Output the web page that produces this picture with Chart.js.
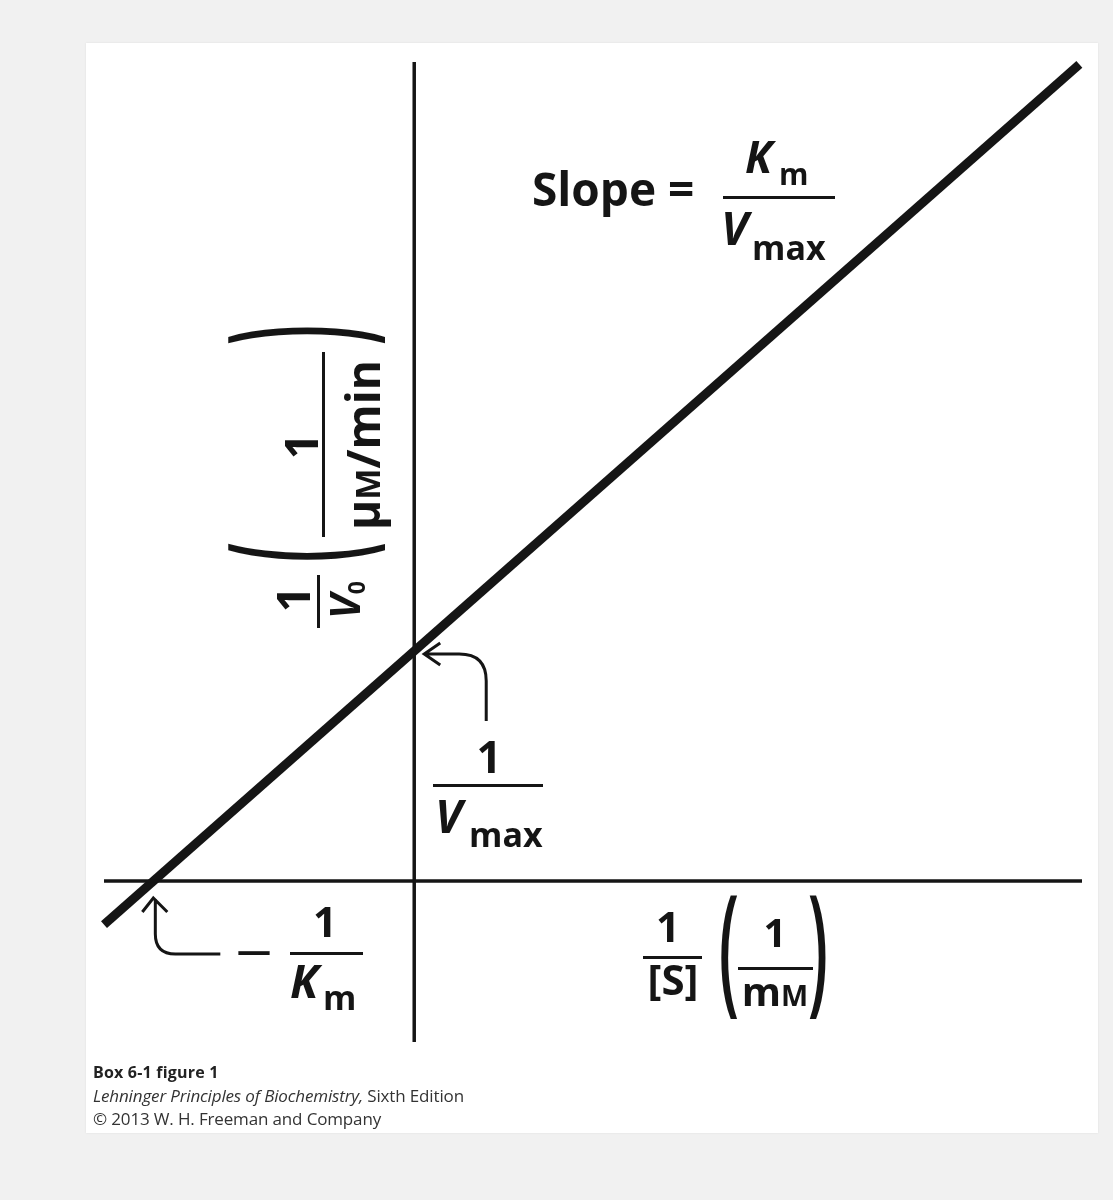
<!DOCTYPE html>
<html>
<head>
<meta charset="utf-8">
<script src="https://cdn.jsdelivr.net/npm/chart.js@4"></script>
<style>
  html, body { margin: 0; padding: 0; }
  body { width: 1113px; height: 1200px; overflow: hidden; background: #f1f1f1; position: relative; }
  #panel { position: absolute; left: 86px; top: 43px; width: 1012px; height: 1090px; background: #fff; box-shadow: 0 0 2px rgba(0,0,0,0.08); }
  #chart { position: absolute; left: 0; top: 0; }
  #labels { position: absolute; left: 0; top: 0; width: 1113px; height: 1200px; }
  #ylabel { position: absolute; left: 222px; top: 628px; width: 320px; height: 180px; transform-origin: 0 0; transform: rotate(-90deg); }
  .t { position: absolute; line-height: 1; white-space: nowrap; font-family: "Open Sans", "Noto Sans", sans-serif; font-weight: 700; color: #151515; }
  .bar { position: absolute; background: #151515; }
</style>
</head>
<body>
<div id="panel"></div>
<canvas id="chart" width="1113" height="1200"></canvas>
<div id="labels"><div id="ylabel"></div></div>

<script>
  // ── Data (Lineweaver–Burk plot, arbitrary units) ──────
  const axisX = [-1.18, 2.54];   // extent of the 1/[S] axis
  const axisY = [-0.70, 3.56];   // extent of the 1/V0 axis
  const plotX = [-1.18, 2.53];   // ends of the fitted line
  const plotY = [-0.19, 3.55];
  const interceptX = -1;         // -1/Km
  const interceptY = 1;          // 1/Vmax

  const INK = "#151515";
  const ASC = 0.888; // baseline offset inside a line-height:1 box (Open Sans)

  // ── Text helpers ──────────────────────────────────────
  const labels = document.getElementById("labels");
  const ylabel = document.getElementById("ylabel");

  function put(parent, html, x, base, size, o = {}) {
    const el = document.createElement("div");
    el.className = "t";
    el.innerHTML = html;
    el.style.left = x + "px";
    el.style.top = (base - ASC * size) + "px";
    el.style.fontSize = size + "px";
    if (o.italic) el.style.fontStyle = "italic";
    if (o.weight) el.style.fontWeight = o.weight;
    if (o.color) el.style.color = o.color;
    if (o.spacing) el.style.letterSpacing = o.spacing + "px";
    if (o.center) el.style.transform = "translateX(-50%)";
    parent.appendChild(el);
    return el;
  }

  function bar(parent, x1, x2, y, w = 3) {
    const el = document.createElement("div");
    el.className = "bar";
    el.style.left = x1 + "px";
    el.style.top = (y - w / 2) + "px";
    el.style.width = (x2 - x1) + "px";
    el.style.height = w + "px";
    parent.appendChild(el);
  }

  function paren(parent, ch, cx, cy, h) {
    const F = 64;
    const el = put(parent, ch, cx, 0, F, { weight: 600 });
    el.style.top = (cy - 0.612 * F) + "px";
    el.style.transformOrigin = "50% 61.2%";
    el.style.transform = "translateX(-50%) scaleY(" + (h / (0.968 * F)).toFixed(3) + ")";
  }

  // Slope = Km / Vmax
  put(labels, "Slope =", 532, 206, 46);
  put(labels, "K", 745, 173, 44, { italic: true });
  put(labels, "m", 779, 186, 30);
  bar(labels, 723, 835, 197);
  put(labels, "V", 721, 245, 46, { italic: true });
  put(labels, "max", 752, 260, 34);

  // 1 / Vmax at the y intercept
  put(labels, "1", 489, 773, 44, { center: true });
  bar(labels, 433, 543, 785);
  put(labels, "V", 435, 833, 46, { italic: true });
  put(labels, "max", 469, 847, 34);

  // -1 / Km at the x intercept
  put(labels, "—", 254, 962, 34, { center: true });
  put(labels, "1", 325, 937, 42, { center: true });
  bar(labels, 290, 363, 953);
  put(labels, "K", 290, 998, 46, { italic: true });
  put(labels, "m", 323, 1010, 34);

  // x axis title: 1/[S] (1/mM)
  put(labels, "1", 668, 942, 42, { center: true });
  bar(labels, 643, 702, 957);
  put(labels, "[S]", 673, 995, 42, { center: true });
  paren(labels, "(", 729, 960, 136);
  put(labels, "1", 775, 948, 40, { center: true });
  bar(labels, 738, 813, 968);
  put(labels, 'm<span style="font-size:0.72em">M</span>', 775, 1007, 40, { center: true });
  paren(labels, ")", 818, 960, 136);

  // y axis title (rotated): 1/V0 (1 / μM/min)
  put(ylabel, "1", 29, 88, 46, { center: true });
  bar(ylabel, 0, 53, 96);
  put(ylabel, 'V<span style="font-size:0.55em;font-style:normal;position:relative;top:0.25em">0</span>', 28, 138, 42, { italic: true, center: true });
  paren(ylabel, "(", 76, 88, 174);
  put(ylabel, "1", 182, 96, 46, { center: true });
  bar(ylabel, 91, 276, 101);
  put(ylabel, 'μ<span style="font-size:0.72em">M</span>/min', 183, 158, 46, { center: true });
  paren(ylabel, ")", 293, 88, 174);

  // caption
  put(labels, "Box 6-1 figure 1", 93, 1078, 16, { color: "#222", spacing: 0.2 });
  put(labels, "<i>Lehninger Principles of Biochemistry,</i> Sixth Edition", 93, 1102, 17, { weight: 400, color: "#333", spacing: -0.15 });
  put(labels, "© 2013 W. H. Freeman and Company", 93, 1125, 17, { weight: 400, color: "#333", spacing: -0.15 });

  // ── Arrows pointing at the intercepts ─────────────────
  const arrowsPlugin = {
    id: "arrows",
    afterDatasetsDraw(chart) {
      const { ctx, scales: { x, y } } = chart;
      ctx.save();
      ctx.strokeStyle = INK;
      ctx.lineWidth = 3;
      ctx.lineJoin = "miter";

      // 1/Vmax
      let tx = x.getPixelForValue(0) + 10;
      let ty = y.getPixelForValue(interceptY) + 3;
      ctx.beginPath();
      ctx.moveTo(tx + 62, ty + 67);
      ctx.lineTo(tx + 62, ty + 27);
      ctx.quadraticCurveTo(tx + 62, ty, tx + 35, ty);
      ctx.lineTo(tx + 1, ty);
      ctx.moveTo(tx + 16, ty - 11);
      ctx.lineTo(tx, ty);
      ctx.lineTo(tx + 16, ty + 11);
      ctx.stroke();

      // -1/Km
      tx = x.getPixelForValue(interceptX) + 2;
      ty = y.getPixelForValue(0) + 17;
      ctx.beginPath();
      ctx.moveTo(tx + 2, ty + 1);
      ctx.lineTo(tx + 2, ty + 36);
      ctx.quadraticCurveTo(tx + 2, ty + 56, tx + 22, ty + 56);
      ctx.lineTo(tx + 67, ty + 56);
      ctx.moveTo(tx - 11, ty + 14);
      ctx.lineTo(tx, ty);
      ctx.lineTo(tx + 14, ty + 14);
      ctx.stroke();
      ctx.restore();
    }
  };

  // ── Chart ─────────────────────────────────────────────
  const lineSet = (pts, width) => ({
    data: pts,
    showLine: true,
    borderColor: INK,
    borderWidth: width,
    pointRadius: 0,
    clip: false
  });

  new Chart(document.getElementById("chart"), {
    type: "scatter",
    data: {
      datasets: [
        lineSet([{ x: axisX[0], y: 0 }, { x: axisX[1], y: 0 }], 3.5),
        lineSet([{ x: 0, y: axisY[0] }, { x: 0, y: axisY[1] }], 3.5),
        lineSet([{ x: plotX[0], y: plotY[0] }, { x: plotX[1], y: plotY[1] }], 9)
      ]
    },
    options: {
      responsive: false,
      animation: false,
      layout: { padding: { left: 104, right: 31, top: 62, bottom: 158 } },
      scales: {
        x: { type: "linear", display: false, min: axisX[0], max: axisX[1] },
        y: { type: "linear", display: false, min: axisY[0], max: axisY[1] }
      },
      plugins: { legend: { display: false }, tooltip: { enabled: false } },
      events: []
    },
    plugins: [arrowsPlugin]
  });
</script>
</body>
</html>
